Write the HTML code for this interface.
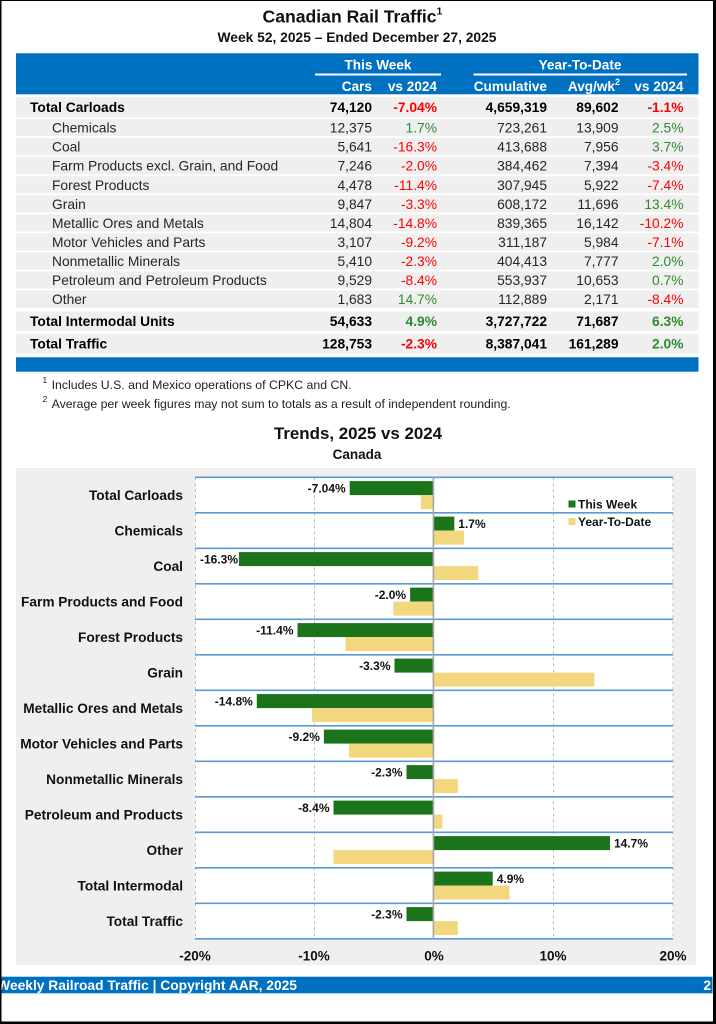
<!DOCTYPE html>
<html><head><meta charset="utf-8"><style>
html,body{margin:0;padding:0;background:#fff;}
svg{display:block;font-family:"Liberation Sans",Arial,sans-serif;}
</style></head><body>
<svg width="716" height="1024" viewBox="0 0 716 1024" xmlns="http://www.w3.org/2000/svg">
<rect x="0" y="0" width="716" height="1024" fill="#fff"/>
<!-- Titles -->
<text x="262.5" y="22.7" font-size="17.6" font-weight="bold" fill="#111">Canadian Rail Traffic<tspan dy="-8" font-size="10.5">1</tspan></text>
<text x="357" y="42" font-size="13.8" font-weight="bold" fill="#111" text-anchor="middle">Week 52, 2025 – Ended December 27, 2025</text>

<!-- Table header -->
<rect x="16" y="53.3" width="682.5" height="41" fill="#0070c0"/>
<g fill="#fff" font-weight="bold" font-size="13.6">
<text x="378" y="69.3" text-anchor="middle">This Week</text>
<text x="580" y="69.3" text-anchor="middle">Year-To-Date</text>
<text x="372" y="91" text-anchor="end">Cars</text>
<text x="437" y="91" text-anchor="end">vs 2024</text>
<text x="547" y="91" text-anchor="end">Cumulative</text>
<text x="620" y="91" text-anchor="end">Avg/wk<tspan dy="-6" font-size="9">2</tspan></text>
<text x="683.5" y="91" text-anchor="end">vs 2024</text>
</g>
<rect x="315" y="73.5" width="126" height="2" fill="#fff"/>
<rect x="473.5" y="73.5" width="213.5" height="2" fill="#fff"/>

<!-- Row backgrounds -->
<g fill="#efefef">
<rect x="16" y="97" width="682.5" height="20.5"/>
<rect x="16" y="119" width="682.5" height="17.2"/>
<rect x="16" y="138.05" width="682.5" height="17.2"/>
<rect x="16" y="157.1" width="682.5" height="17.2"/>
<rect x="16" y="176.15" width="682.5" height="17.2"/>
<rect x="16" y="195.2" width="682.5" height="17.2"/>
<rect x="16" y="214.25" width="682.5" height="17.2"/>
<rect x="16" y="233.3" width="682.5" height="17.2"/>
<rect x="16" y="252.35" width="682.5" height="17.2"/>
<rect x="16" y="271.4" width="682.5" height="17.2"/>
<rect x="16" y="290.45" width="682.5" height="17.6"/>
<rect x="16" y="311.5" width="682.5" height="19.5"/>
<rect x="16" y="334" width="682.5" height="19.5"/>
</g>
<rect x="16" y="357.3" width="682.5" height="14.4" fill="#0070c0"/>

<!-- Table body -->
<g font-size="13.8">
<g font-weight="bold" fill="#000">
<text x="30" y="112.2">Total Carloads</text>
<text x="372" y="112.2" text-anchor="end">74,120</text>
<text x="437" y="112.2" text-anchor="end" fill="#ff0000">-7.04%</text>
<text x="547" y="112.2" text-anchor="end">4,659,319</text>
<text x="618.5" y="112.2" text-anchor="end">89,602</text>
<text x="683.5" y="112.2" text-anchor="end" fill="#ff0000">-1.1%</text>

<text x="30" y="326.2">Total Intermodal Units</text>
<text x="372" y="326.2" text-anchor="end">54,633</text>
<text x="437" y="326.2" text-anchor="end" fill="#2e8b2e">4.9%</text>
<text x="547" y="326.2" text-anchor="end">3,727,722</text>
<text x="618.5" y="326.2" text-anchor="end">71,687</text>
<text x="683.5" y="326.2" text-anchor="end" fill="#2e8b2e">6.3%</text>

<text x="30" y="348.7">Total Traffic</text>
<text x="372" y="348.7" text-anchor="end">128,753</text>
<text x="437" y="348.7" text-anchor="end" fill="#ff0000">-2.3%</text>
<text x="547" y="348.7" text-anchor="end">8,387,041</text>
<text x="618.5" y="348.7" text-anchor="end">161,289</text>
<text x="683.5" y="348.7" text-anchor="end" fill="#2e8b2e">2.0%</text>
</g>
<g fill="#262626">
<text x="52" y="132.6">Chemicals</text>
<text x="372" y="132.6" text-anchor="end">12,375</text>
<text x="437" y="132.6" text-anchor="end" fill="#2e8b2e">1.7%</text>
<text x="547" y="132.6" text-anchor="end">723,261</text>
<text x="618.5" y="132.6" text-anchor="end">13,909</text>
<text x="683.5" y="132.6" text-anchor="end" fill="#2e8b2e">2.5%</text>

<text x="52" y="151.65">Coal</text>
<text x="372" y="151.65" text-anchor="end">5,641</text>
<text x="437" y="151.65" text-anchor="end" fill="#ff0000">-16.3%</text>
<text x="547" y="151.65" text-anchor="end">413,688</text>
<text x="618.5" y="151.65" text-anchor="end">7,956</text>
<text x="683.5" y="151.65" text-anchor="end" fill="#2e8b2e">3.7%</text>

<text x="52" y="170.7">Farm Products excl. Grain, and Food</text>
<text x="372" y="170.7" text-anchor="end">7,246</text>
<text x="437" y="170.7" text-anchor="end" fill="#ff0000">-2.0%</text>
<text x="547" y="170.7" text-anchor="end">384,462</text>
<text x="618.5" y="170.7" text-anchor="end">7,394</text>
<text x="683.5" y="170.7" text-anchor="end" fill="#ff0000">-3.4%</text>

<text x="52" y="189.75">Forest Products</text>
<text x="372" y="189.75" text-anchor="end">4,478</text>
<text x="437" y="189.75" text-anchor="end" fill="#ff0000">-11.4%</text>
<text x="547" y="189.75" text-anchor="end">307,945</text>
<text x="618.5" y="189.75" text-anchor="end">5,922</text>
<text x="683.5" y="189.75" text-anchor="end" fill="#ff0000">-7.4%</text>

<text x="52" y="208.8">Grain</text>
<text x="372" y="208.8" text-anchor="end">9,847</text>
<text x="437" y="208.8" text-anchor="end" fill="#ff0000">-3.3%</text>
<text x="547" y="208.8" text-anchor="end">608,172</text>
<text x="618.5" y="208.8" text-anchor="end">11,696</text>
<text x="683.5" y="208.8" text-anchor="end" fill="#2e8b2e">13.4%</text>

<text x="52" y="227.85">Metallic Ores and Metals</text>
<text x="372" y="227.85" text-anchor="end">14,804</text>
<text x="437" y="227.85" text-anchor="end" fill="#ff0000">-14.8%</text>
<text x="547" y="227.85" text-anchor="end">839,365</text>
<text x="618.5" y="227.85" text-anchor="end">16,142</text>
<text x="683.5" y="227.85" text-anchor="end" fill="#ff0000">-10.2%</text>

<text x="52" y="246.9">Motor Vehicles and Parts</text>
<text x="372" y="246.9" text-anchor="end">3,107</text>
<text x="437" y="246.9" text-anchor="end" fill="#ff0000">-9.2%</text>
<text x="547" y="246.9" text-anchor="end">311,187</text>
<text x="618.5" y="246.9" text-anchor="end">5,984</text>
<text x="683.5" y="246.9" text-anchor="end" fill="#ff0000">-7.1%</text>

<text x="52" y="265.95">Nonmetallic Minerals</text>
<text x="372" y="265.95" text-anchor="end">5,410</text>
<text x="437" y="265.95" text-anchor="end" fill="#ff0000">-2.3%</text>
<text x="547" y="265.95" text-anchor="end">404,413</text>
<text x="618.5" y="265.95" text-anchor="end">7,777</text>
<text x="683.5" y="265.95" text-anchor="end" fill="#2e8b2e">2.0%</text>

<text x="52" y="285">Petroleum and Petroleum Products</text>
<text x="372" y="285" text-anchor="end">9,529</text>
<text x="437" y="285" text-anchor="end" fill="#ff0000">-8.4%</text>
<text x="547" y="285" text-anchor="end">553,937</text>
<text x="618.5" y="285" text-anchor="end">10,653</text>
<text x="683.5" y="285" text-anchor="end" fill="#2e8b2e">0.7%</text>

<text x="52" y="304.2">Other</text>
<text x="372" y="304.2" text-anchor="end">1,683</text>
<text x="437" y="304.2" text-anchor="end" fill="#2e8b2e">14.7%</text>
<text x="547" y="304.2" text-anchor="end">112,889</text>
<text x="618.5" y="304.2" text-anchor="end">2,171</text>
<text x="683.5" y="304.2" text-anchor="end" fill="#ff0000">-8.4%</text>
</g>
</g>

<!-- Footnotes -->
<g font-size="12.3" fill="#222">
<text x="42.5" y="383" font-size="8.5">1</text>
<text x="51.6" y="389">Includes U.S. and Mexico operations of CPKC and CN.</text>
<text x="42.5" y="402" font-size="8.5">2</text>
<text x="51.6" y="408">Average per week figures may not sum to totals as a result of independent rounding.</text>
</g>

<!-- Chart titles -->
<text x="358" y="439" font-size="16.9" font-weight="bold" fill="#111" text-anchor="middle">Trends, 2025 vs 2024</text>
<text x="357" y="459" font-size="13.5" font-weight="bold" fill="#111" text-anchor="middle">Canada</text>

<!-- Chart -->
<rect x="16" y="468" width="680" height="497" fill="#efefef"/>
<rect x="195" y="477.3" width="478" height="461.5" fill="#fff"/>
<g stroke="#bdbdbd" stroke-width="1" stroke-dasharray="3,3">
<line x1="195.5" y1="477.3" x2="195.5" y2="938.8"/>
<line x1="314.5" y1="477.3" x2="314.5" y2="938.8"/>
<line x1="553.5" y1="477.3" x2="553.5" y2="938.8"/>
<line x1="673" y1="477.3" x2="673" y2="938.8"/>
</g>

<!-- Bars: green (this week) -->
<g fill="#1b741b">
<rect x="349.7" y="481.1" width="84.3" height="14"/>
<rect x="434" y="516.6" width="20.3" height="14"/>
<rect x="238.9" y="552.1" width="195.1" height="14"/>
<rect x="410.1" y="587.6" width="23.9" height="14"/>
<rect x="297.5" y="623.1" width="136.5" height="14"/>
<rect x="394.5" y="658.6" width="39.5" height="14"/>
<rect x="256.8" y="694.1" width="177.2" height="14"/>
<rect x="323.9" y="729.6" width="110.1" height="14"/>
<rect x="406.5" y="765.1" width="27.5" height="14"/>
<rect x="333.5" y="800.6" width="100.5" height="14"/>
<rect x="434" y="836.1" width="176" height="14"/>
<rect x="434" y="871.6" width="58.7" height="14"/>
<rect x="406.5" y="907.1" width="27.5" height="14"/>
</g>
<!-- Bars: yellow (YTD) -->
<g fill="#f3d77f">
<rect x="420.8" y="495.1" width="13.2" height="14"/>
<rect x="434" y="530.6" width="29.9" height="14"/>
<rect x="434" y="566.1" width="44.3" height="14"/>
<rect x="393.3" y="601.6" width="40.7" height="14"/>
<rect x="345.4" y="637.1" width="88.6" height="14"/>
<rect x="434" y="672.6" width="160.4" height="14"/>
<rect x="311.9" y="708.1" width="122.1" height="14"/>
<rect x="349" y="743.6" width="85" height="14"/>
<rect x="434" y="779.1" width="23.9" height="14"/>
<rect x="434" y="814.6" width="8.4" height="14"/>
<rect x="333.5" y="850.1" width="100.5" height="14"/>
<rect x="434" y="885.6" width="75.4" height="14"/>
<rect x="434" y="921.1" width="23.9" height="14"/>
</g>

<!-- Horizontal blue separators -->
<g stroke="#5b9bd5" stroke-width="1.6">
<line x1="195" y1="477.3" x2="673" y2="477.3"/>
<line x1="195" y1="512.8" x2="673" y2="512.8"/>
<line x1="195" y1="548.3" x2="673" y2="548.3"/>
<line x1="195" y1="583.8" x2="673" y2="583.8"/>
<line x1="195" y1="619.3" x2="673" y2="619.3"/>
<line x1="195" y1="654.8" x2="673" y2="654.8"/>
<line x1="195" y1="690.3" x2="673" y2="690.3"/>
<line x1="195" y1="725.8" x2="673" y2="725.8"/>
<line x1="195" y1="761.3" x2="673" y2="761.3"/>
<line x1="195" y1="796.8" x2="673" y2="796.8"/>
<line x1="195" y1="832.3" x2="673" y2="832.3"/>
<line x1="195" y1="867.8" x2="673" y2="867.8"/>
<line x1="195" y1="903.3" x2="673" y2="903.3"/>
<line x1="195" y1="938.8" x2="673" y2="938.8"/>
</g>
<!-- zero line -->
<line x1="433.4" y1="477.3" x2="433.4" y2="938.8" stroke="#a6a6a6" stroke-width="1.6"/>

<!-- Bar value labels -->
<g font-size="12" font-weight="bold" fill="#111">
<text x="345.7" y="492.6" text-anchor="end">-7.04%</text>
<text x="458.3" y="528.1">1.7%</text>
<text x="238" y="563.6" text-anchor="end">-16.3%</text>
<text x="406.1" y="599.1" text-anchor="end">-2.0%</text>
<text x="293.5" y="634.6" text-anchor="end">-11.4%</text>
<text x="390.5" y="670.1" text-anchor="end">-3.3%</text>
<text x="252.8" y="705.6" text-anchor="end">-14.8%</text>
<text x="319.9" y="741.1" text-anchor="end">-9.2%</text>
<text x="402.5" y="776.6" text-anchor="end">-2.3%</text>
<text x="329.5" y="812.1" text-anchor="end">-8.4%</text>
<text x="614" y="847.6">14.7%</text>
<text x="496.7" y="883.1">4.9%</text>
<text x="402.5" y="918.6" text-anchor="end">-2.3%</text>
</g>

<!-- Category labels -->
<g font-size="13.7" font-weight="bold" fill="#111" text-anchor="end">
<text x="183" y="500">Total Carloads</text>
<text x="183" y="535.5">Chemicals</text>
<text x="183" y="571">Coal</text>
<text x="183" y="606.5">Farm Products and Food</text>
<text x="183" y="642">Forest Products</text>
<text x="183" y="677.5">Grain</text>
<text x="183" y="713">Metallic Ores and Metals</text>
<text x="183" y="748.5">Motor Vehicles and Parts</text>
<text x="183" y="784">Nonmetallic Minerals</text>
<text x="183" y="819.5">Petroleum and Products</text>
<text x="183" y="855">Other</text>
<text x="183" y="890.5">Total Intermodal</text>
<text x="183" y="926">Total Traffic</text>
</g>

<!-- Legend -->
<rect x="568.5" y="500.5" width="7" height="7" fill="#1b741b"/>
<text x="578" y="508.5" font-size="12" font-weight="bold" fill="#111">This Week</text>
<rect x="568.5" y="518" width="7" height="7" fill="#f3d77f"/>
<text x="578" y="526" font-size="12" font-weight="bold" fill="#111">Year-To-Date</text>

<!-- X axis ticks -->
<g font-size="13.5" font-weight="bold" fill="#111" text-anchor="middle">
<text x="195" y="960.7">-20%</text>
<text x="314" y="960.7">-10%</text>
<text x="434" y="960.7">0%</text>
<text x="553" y="960.7">10%</text>
<text x="673" y="960.7">20%</text>
</g>

<!-- Footer -->
<rect x="0" y="976.7" width="712.5" height="16.6" fill="#0070c0"/>
<text x="297" y="990" font-size="13.8" font-weight="bold" fill="#fff" text-anchor="end">Weekly Railroad Traffic | Copyright AAR, 2025</text>
<text x="711" y="990" font-size="13.8" font-weight="bold" fill="#fff" text-anchor="end">2</text>

<!-- Outer border -->
<rect x="0" y="0" width="1.5" height="1024" fill="#000"/>
<rect x="713" y="0" width="3" height="1024" fill="#000"/>
<rect x="0" y="1021.5" width="716" height="2.5" fill="#000"/>
<rect x="0" y="0" width="716" height="1" fill="#000"/>
</svg>
</body></html>
